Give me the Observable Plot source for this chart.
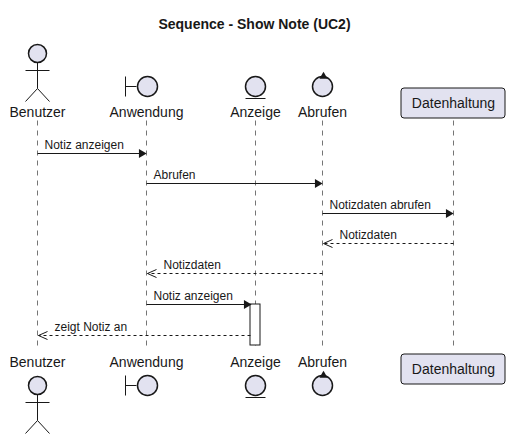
<!DOCTYPE html>
<html><head><meta charset="utf-8">
<script src="https://cdn.jsdelivr.net/npm/d3@7"></script>
<script src="https://cdn.jsdelivr.net/npm/@observablehq/plot@0.6"></script>
<style>body{margin:0;background:#fff}</style>
</head><body><div id="chart"></div>
<script>
const title = "Sequence - Show Note (UC2)";
const names = ["Benutzer", "Anwendung", "Anzeige", "Abrufen", "Datenhaltung"];
const kinds = ["actor", "boundary", "entity", "control", "participant"];
const cols = [37, 146, 255, 322, 453];
const msgFrom = [0, 1, 3, 4, 3, 1, 2];
const msgTo = [1, 3, 4, 3, 1, 2, 0];
const msgText = ["Notiz anzeigen", "Abrufen", "Notizdaten abrufen", "Notizdaten", "Notizdaten", "Notiz anzeigen", "zeigt Notiz an"];
const msgReply = [false, false, false, true, true, false, true];
const msgY = [153, 183, 213, 243, 273, 304, 335];

const fill = "#E2E2F0", ink = "#181818";
const font = "Liberation Sans, Arial, sans-serif";
const msgs = msgText.map((t, i) => {
  const x1 = cols[msgFrom[i]], x2 = cols[msgTo[i]], dir = Math.sign(x2 - x1);
  const end = msgTo[i] === 2 ? x2 - 5 : x2 - dir;
  return {t, x1: x1 + (msgFrom[i] === 2 ? -5 : 0), x2: end, y: msgY[i], dir, reply: msgReply[i]};
});

// [icon centre y, label y, box top y, actor head y]
const heads = [[86, 112, 88, 53], [385, 362, 354, 385]];
const marks = [];
marks.push(Plot.link(cols, {x1: d => d, x2: d => d, y1: 120, y2: 350, stroke: ink, strokeDasharray: "5,5", strokeWidth: 0.6}));
for (const [cy, ty, by, ay] of heads) {
  const nodes = names.map((n, i) => ({n, k: kinds[i], x: cols[i]}));
  const actor = nodes.filter(d => d.k === "actor");
  marks.push(
    Plot.link(actor, {x1: "x", x2: "x", y1: ay + 9, y2: ay + 35, stroke: ink}),
    Plot.link(actor, {x1: d => d.x - 12, x2: d => d.x + 12, y1: ay + 17, y2: ay + 17, stroke: ink}),
    Plot.link(actor, {x1: "x", x2: d => d.x - 12, y1: ay + 35, y2: ay + 48, stroke: ink}),
    Plot.link(actor, {x1: "x", x2: d => d.x + 12, y1: ay + 35, y2: ay + 48, stroke: ink}),
    Plot.dot(actor, {x: "x", y: ay, r: 9, fill, stroke: ink}),
    Plot.link(nodes.filter(d => d.k === "boundary"), {x1: d => d.x - 21, x2: d => d.x - 21, y1: cy - 10, y2: cy + 10, stroke: ink}),
    Plot.link(nodes.filter(d => d.k === "boundary"), {x1: d => d.x - 21, x2: d => d.x - 10, y1: cy, y2: cy, stroke: ink}),
    Plot.dot(nodes.filter(d => ["boundary", "entity", "control"].includes(d.k)), {x: d => d.k === "boundary" ? d.x + 1 : d.x, y: cy, r: 10, fill, stroke: ink}),
    Plot.link(nodes.filter(d => d.k === "entity"), {x1: d => d.x - 10, x2: d => d.x + 10, y1: cy + 12, y2: cy + 12, stroke: ink}),
    Plot.dot(nodes.filter(d => d.k === "control"), {x: d => d.x + 1, y: cy - 10, symbol: "triangle", r: 3, rotate: -120, fill: ink}),
    Plot.rect(nodes.filter(d => d.k === "participant"), {x1: d => d.x - 52, x2: d => d.x + 52, y1: by, y2: by + 30, fill, stroke: ink, rx: 3}),
    Plot.text(nodes, {x: "x", y: d => d.k === "participant" ? by + 15 : ty, text: "n", fontSize: 14, fill: ink, fontFamily: font})
  );
}
marks.push(Plot.rect([0], {x1: cols[2] - 5, x2: cols[2] + 5, y1: 304, y2: 345, fill: "#fff", stroke: ink}));
marks.push(
  Plot.link(msgs.filter(d => !d.reply), {x1: "x1", x2: "x2", y1: "y", y2: "y", stroke: ink}),
  Plot.link(msgs.filter(d => d.reply), {x1: "x1", x2: "x2", y1: "y", y2: "y", stroke: ink, strokeDasharray: "3,3"}),
  Plot.dot(msgs.filter(d => !d.reply), {x: d => d.x2 - d.dir * 4, y: "y", symbol: "triangle", r: 3.3, rotate: d => d.dir * 90, fill: ink}),
  Plot.link(msgs.filter(d => d.reply), {x1: d => d.x2 - d.dir * 9, x2: "x2", y1: d => d.y - 4, y2: "y", stroke: ink}),
  Plot.link(msgs.filter(d => d.reply), {x1: d => d.x2 - d.dir * 9, x2: "x2", y1: d => d.y + 4, y2: "y", stroke: ink}),
  Plot.text(msgs, {x: d => Math.min(d.x1, d.x2) + (d.reply ? 16 : 7), y: d => d.y - 8, text: "t", textAnchor: "start", fontSize: 12, fill: ink, fontFamily: font}),
  Plot.text([title], {x: 254, y: 24, text: d => d, fontSize: 14, fontWeight: "bold", fill: ink, fontFamily: font})
);

const chart = Plot.plot({
  width: 508, height: 434, margin: 0,
  x: {domain: [0, 508], axis: null},
  y: {domain: [0, 434], range: [0, 434], axis: null},
  r: {type: "identity"},
  marks
});
d3.select("#chart").append(() => chart);
</script></body></html>
